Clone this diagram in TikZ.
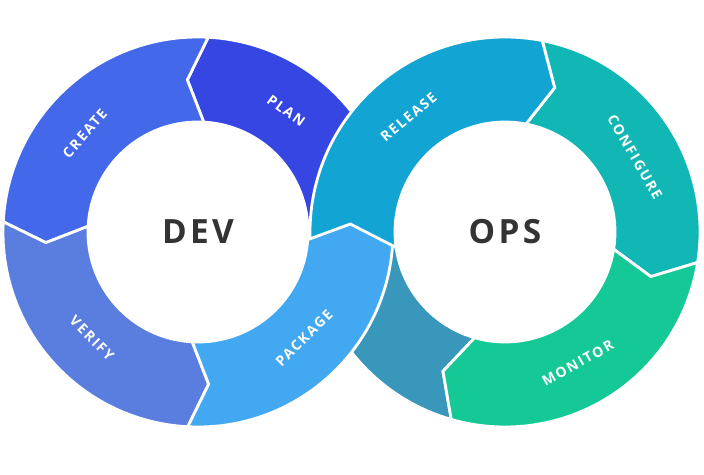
\documentclass[tikz,border=0pt]{standalone}
\usepackage{fontspec}
\setmainfont{Open Sans}
\usetikzlibrary{positioning,calc}

\definecolor{planblue}{HTML}{3546E3}
\definecolor{createblue}{HTML}{4368E9}
\definecolor{verifyblue}{HTML}{5A7DE0}
\definecolor{packageblue}{HTML}{42A8F2}
\definecolor{releasecyan}{HTML}{12A4D2}
\definecolor{configteal}{HTML}{10B7B5}
\definecolor{monitorgreen}{HTML}{14C996}
\definecolor{deploysteel}{HTML}{3897BA}
\definecolor{hubgrey}{HTML}{333333}

% one ring piece: centre, start angle, end angle, tip offset, colour
\newcommand{\ringpiece}[5]{%
  \fill[#5, draw=white, line width=1.6pt, line join=miter]
    ($(#1)+(#2:3.9)$) arc[start angle=#2, end angle=#3, radius=3.9]
    -- ($(#1)+(#3+#4:3.05)$) -- ($(#1)+(#3:2.2)$)
    arc[start angle=#3, end angle=#2, radius=2.2]
    -- ($(#1)+(#2+#4:3.05)$) -- cycle;}

\begin{document}
\begin{tikzpicture}[
	stage/.style = {text=white, font=\bfseries\fontsize{8}{9}\selectfont\addfontfeatures{LetterSpace=12}},
	hub/.style   = {text=hubgrey, font=\bfseries\fontsize{19}{20}\selectfont\addfontfeatures{LetterSpace=10}}]

	\useasboundingbox (0,0) rectangle (14.08,9.5);
	\coordinate (dev) at (3.96,4.86);
	\coordinate (ops) at (10.1,4.86);

	% the dev ring, pieces run anticlockwise
	\ringpiece{dev}{-4}{87}{7}{planblue}
	\ringpiece{dev}{87}{177}{7}{createblue}
	\ringpiece{dev}{177}{267}{7}{verifyblue}

	% the ops ring, pieces run clockwise
	\ringpiece{ops}{188}{254}{-8}{deploysteel}
	\ringpiece{ops}{-9}{79}{-8}{configteal}
	\ringpiece{ops}{254}{351}{-8}{monitorgreen}
	\ringpiece{ops}{79}{188}{-8}{releasecyan}
	\ringpiece{dev}{267}{356}{7}{packageblue}

	% labels on the rings
	\node[stage, rotate=-36] (plan)    at ($(dev)+(54:3.0)$)  {PLAN};
	\node[stage, rotate=49]  (create)  at ($(dev)+(139:3.0)$) {CREATE};
	\node[stage, rotate=-45] (verify)  at ($(dev)+(225:3.0)$) {VERIFY};
	\node[stage, rotate=45]  (package) at ($(dev)+(-45:3.0)$) {PACKAGE};
	\node[stage, rotate=40]  (release) at ($(ops)+(130:3.0)$) {RELEASE};
	\node[stage, rotate=-60] (config)  at ($(ops)+(30:3.0)$)  {CONFIGURE};
	\node[stage, rotate=29]  (monitor) at ($(ops)+(-61:3.0)$) {MONITOR};

	% ring names
	\node[hub] (devname) at (dev) {DEV};
	\node[hub] (opsname) at (ops) {OPS};

\end{tikzpicture}
\end{document}
